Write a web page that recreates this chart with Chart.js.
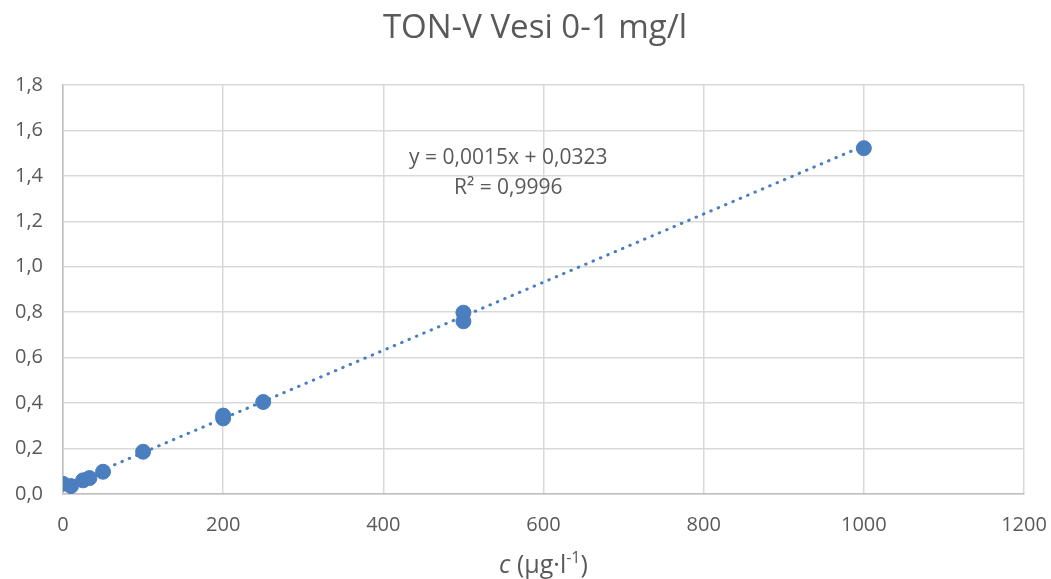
<!DOCTYPE html>
<html>
<head>
<meta charset="utf-8">
<script src="https://cdn.jsdelivr.net/npm/chart.js@4/dist/chart.umd.min.js"></script>
<style>
  html, body { margin: 0; padding: 0; background: #fff; }
  #wrap { width: 1051px; height: 579px; }
</style>
</head>
<body>
<div id="wrap"><canvas id="chart" width="1051" height="579"></canvas></div>
<script>
// calibration points
const concentrations = [0, 10, 25, 33, 50, 100, 200, 200, 250, 500, 500, 1000];
const absorbances = [0.045, 0.035, 0.060, 0.070, 0.098, 0.186, 0.345, 0.333, 0.405, 0.798, 0.760, 1.522];

// linear trendline shown on the chart
const trendSlope = 0.0015;
const trendIntercept = 0.0323;
const trendRange = [0, 1000];

const chartTitle = 'TON-V Vesi 0-1 mg/l';
const equationLines = ['y = 0,0015x + 0,0323', 'R² = 0,9996'];

const blue = '#4a7ebf';
const grey = '#595959';
const font = '"Open Sans", Lato, sans-serif';

const comma = (v, digits) => v.toFixed(digits).replace('.', ',');

const overlay = {
    id: 'overlay',
    afterDraw(chart) {
        const { ctx, scales } = chart;
        ctx.save();
        ctx.fillStyle = grey;
        ctx.textAlign = 'center';
        ctx.textBaseline = 'middle';

        ctx.font = '33px ' + font;
        ctx.fillText(chartTitle, 535, 29);

        // trendline equation, anchored in data space
        ctx.font = '21px ' + font;
        const ex = scales.x.getPixelForValue(556);
        const ey = scales.y.getPixelForValue(1.48);
        ctx.fillText(equationLines[0], ex, ey);
        ctx.fillText(equationLines[1], ex, ey + 30);

        // axis title: italic c (µg·l-1) with superscript
        const cx = scales.x.getPixelForValue(600);
        const cy = 573;
        ctx.textAlign = 'left';
        ctx.textBaseline = 'alphabetic';
        const parts = [
            { t: 'c', f: 'italic 25px ' + font, dy: 0 },
            { t: ' (µg·l', f: '25px ' + font, dy: 0 },
            { t: '-1', f: '16px ' + font, dy: -10 },
            { t: ')', f: '25px ' + font, dy: 0 }
        ];
        let total = 0;
        parts.forEach(p => { ctx.font = p.f; total += ctx.measureText(p.t).width; });
        let x = cx - total / 2;
        parts.forEach(p => {
            ctx.font = p.f;
            ctx.fillText(p.t, x, cy + p.dy);
            x += ctx.measureText(p.t).width;
        });
        ctx.restore();
    }
};

new Chart(document.getElementById('chart'), {
    type: 'scatter',
    data: {
        datasets: [
            {
                label: 'trend',
                type: 'line',
                data: trendRange.map(x => ({ x, y: trendSlope * x + trendIntercept })),
                borderColor: blue,
                borderWidth: 3,
                borderDash: [0.5, 7.5],
                borderCapStyle: 'round',
                pointRadius: 0,
                fill: false,
                order: 0
            },
            {
                label: 'points',
                data: concentrations.map((x, i) => ({ x, y: absorbances[i] })),
                backgroundColor: blue,
                borderColor: blue,
                pointRadius: 7.5,
                pointHoverRadius: 7.5,
                order: 1
            }
        ]
    },
    options: {
        responsive: false,
        animation: false,
        layout: { padding: { top: 85, left: 0, right: 27, bottom: 0 } },
        plugins: {
            legend: { display: false },
            title: { display: false },
            tooltip: { enabled: false }
        },
        scales: {
            x: {
                type: 'linear',
                min: 0,
                max: 1200,
                ticks: {
                    stepSize: 200,
                    color: grey,
                    font: { family: font, size: 20 },
                    padding: 19,
                    maxRotation: 0,
                    callback: v => String(v)
                },
                grid: { color: '#d9d9d9', lineWidth: 1.5, drawTicks: false },
                border: { color: '#bfbfbf', width: 1.5 },
                afterFit(scale) {
                    scale.height = 85;
                    scale.paddingLeft = 0;
                    scale.paddingRight = 0;
                }
            },
            y: {
                type: 'linear',
                min: 0,
                max: 1.8,
                ticks: {
                    stepSize: 0.2,
                    color: grey,
                    font: { family: font, size: 20 },
                    padding: 20,
                    callback: v => comma(v, 1)
                },
                grid: { color: '#d9d9d9', lineWidth: 1.5, drawTicks: false },
                border: { color: '#bfbfbf', width: 1.5 },
                afterFit(scale) {
                    scale.width = 63;
                    scale.paddingTop = 0;
                    scale.paddingBottom = 0;
                }
            }
        }
    },
    plugins: [overlay]
});
</script>
</body>
</html>
